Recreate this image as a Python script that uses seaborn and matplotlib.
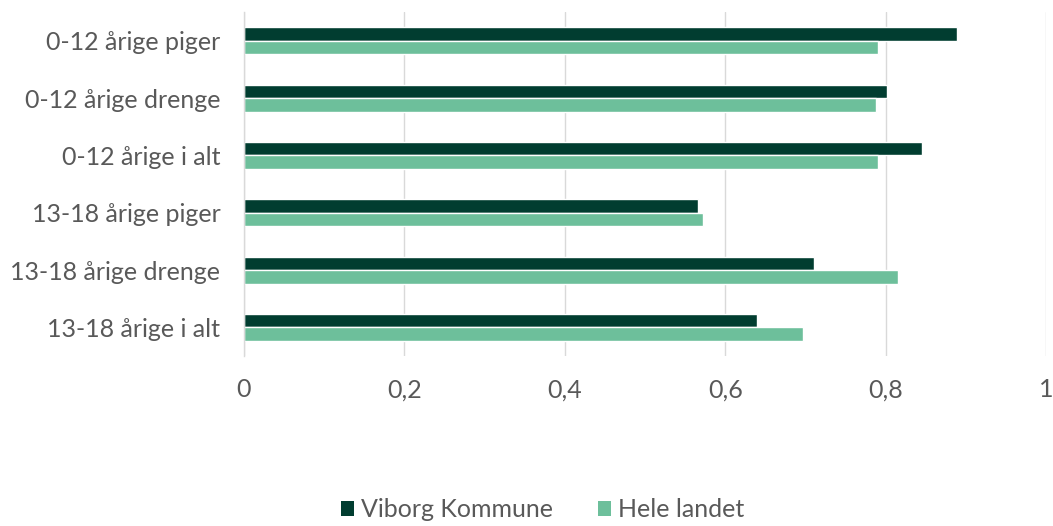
import matplotlib
matplotlib.use("Agg")
import matplotlib.pyplot as plt
from matplotlib.patches import Patch
import pandas as pd
import seaborn as sns

categories = [
    "0-12 årige piger",
    "0-12 årige drenge",
    "0-12 årige i alt",
    "13-18 årige piger",
    "13-18 årige drenge",
    "13-18 årige i alt",
]
viborg = [0.889, 0.802, 0.845, 0.566, 0.711, 0.640]
hele_landet = [0.790, 0.788, 0.790, 0.572, 0.816, 0.697]
series_names = ["Viborg Kommune", "Hele landet"]
x_ticks = [0, 0.2, 0.4, 0.6, 0.8, 1.0]
x_tick_labels = ["0", "0,2", "0,4", "0,6", "0,8", "1"]

colors = ["#013d30", "#6dbf9b"]
text_color = "#595959"
grid_color = "#d9d9d9"

df = pd.DataFrame({
    "kategori": categories * 2,
    "andel": viborg + hele_landet,
    "serie": [series_names[0]] * len(categories) + [series_names[1]] * len(categories),
})

sns.set_theme(style="white")
plt.rcParams["font.family"] = ["Lato", "DejaVu Sans"]

fig = plt.figure(figsize=(10.53, 5.26), dpi=100)
ax = fig.add_axes([0.2317, 0.323, 0.7617, 0.654])

sns.barplot(
    data=df, x="andel", y="kategori", hue="serie", order=categories,
    hue_order=series_names, palette=colors, orient="h", width=0.47,
    gap=0, saturation=1, legend=False, ax=ax,
)

ax.set_xlim(0, 1)
ax.set_ylim(len(categories) - 0.5, -0.5)
ax.set_xticks(x_ticks)
ax.set_xticklabels(x_tick_labels)
ax.set_xlabel("")
ax.set_ylabel("")
ax.xaxis.grid(True, color=grid_color, linewidth=1)
ax.set_axisbelow(True)
for side in ["top", "right", "bottom"]:
    ax.spines[side].set_visible(False)
ax.spines["left"].set_color(grid_color)
ax.spines["left"].set_linewidth(1)
ax.tick_params(axis="x", length=0, pad=16, labelsize=18, labelcolor=text_color)
ax.tick_params(axis="y", length=0, pad=17, labelsize=18, labelcolor=text_color)

handles = [Patch(facecolor=c, edgecolor="none") for c in colors]
fig.legend(
    handles, series_names, loc="lower center", bbox_to_anchor=(0.515, -0.034),
    ncol=2, frameon=False, fontsize=18, labelcolor=text_color,
    handlelength=0.55, handleheight=0.55, handletextpad=0.25, columnspacing=1.8,
)

fig.savefig("out.png", dpi=100, facecolor="white")
